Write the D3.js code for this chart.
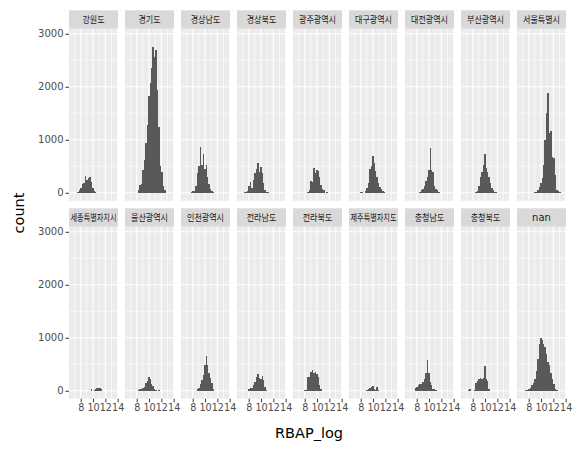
<!DOCTYPE html>
<html><head><meta charset="utf-8">
<script src="https://cdn.jsdelivr.net/npm/d3@7"></script>
<style>body{margin:0;background:#fff}</style></head>
<body>
<script>
const facets = ["강원도","경기도","경상남도","경상북도","광주광역시","대구광역시","대전광역시","부산광역시","서울특별시",
  "세종특별자치시","울산광역시","인천광역시","전라남도","전라북도","제주특별자치도","충청남도","충청북도","nan"];
const binStart = 6.46, binWidth = 0.241;
const firstBin = [4,7,4,3,8,6,7,8,10, 13,7,9,6,6,10,5,3,4];
const counts = [
  [20,45,90,170,185,320,250,280,290,200,90,30,10],
  [50,150,160,430,620,940,1280,1820,2070,2350,2760,2570,2700,1940,1250,500,400,120,55],
  [5,10,30,40,120,370,500,860,530,740,440,520,300,170,70,30,10],
  [15,15,30,120,210,90,250,370,450,560,400,490,370,180,60,10,15],
  [10,60,214,210,465,380,430,420,300,150,70,60,0,20],
  [8,8,0,40,90,180,450,500,700,560,420,300,190,110,70,40,10],
  [5,15,50,80,120,214,300,430,850,430,400,120,80,50,10],
  [20,30,120,300,400,530,730,470,400,300,180,90,50,20,20],
  [10,20,50,100,180,280,530,1000,1510,1880,1130,1160,680,650,340,60,30,10],
  [30,0,20,30,45,50,45,30],
  [15,25,40,60,80,140,180,265,230,120,90,40,20,0,20],
  [40,60,120,200,300,480,650,480,330,250,150,40],
  [40,60,50,110,170,260,320,250,230,280,200,80,20],
  [10,20,260,260,350,390,330,360,310,260,100,40],
  [20,25,60,80,95,40,20,70,10],
  [45,80,110,120,130,170,220,330,580,330,170,110,30,30,20],
  [20,30,0,0,20,140,190,220,240,220,250,470,220,180,40],
  [10,20,25,50,100,150,230,370,600,880,990,960,890,830,700,550,480,330,230,120,40,15]
];
const yMajor = [0,1000,2000,3000], yMinor = [500,1500,2500];
const xMajor = [8,10,12,14], xMinor = [7,9,11,13];

const W = 582, H = 451;
const nCols = 9, pL = 69, pW = 49, gap = 7;
const stripH = 18.5, pH = 172, rowTop = [10.3, 208.3];

const svg = d3.select("body").append("svg").attr("width", W).attr("height", H)
  .style("font-family", "'DejaVu Sans', sans-serif");

const x = d3.scaleLinear().domain([6.1, 14.05]).range([0, pW]);
const y = d3.scaleLinear().domain([-151, 3094]).range([pH, 0]);

facets.forEach((name, i) => {
  const r = Math.floor(i / nCols), c = i % nCols;
  const gx = pL + c * (pW + gap), gy = rowTop[r];
  const g = svg.append("g").attr("transform", `translate(${gx},${gy})`);
  g.append("rect").attr("width", pW).attr("height", stripH).attr("fill", "#D9D9D9");
  const t = g.append("text").attr("x", pW / 2).attr("y", stripH / 2 + 3.6).attr("text-anchor", "middle")
    .attr("fill", "#1A1A1A").text(name);
  if (name === "nan") {
    t.attr("font-size", 10).style("font-family", "'DejaVu Sans'");
  } else {
    t.attr("font-size", 9.5).style("font-family", "'Noto Sans CJK KR'")
      .attr("textLength", Math.min(name.length * 7.4, 46)).attr("lengthAdjust", "spacingAndGlyphs");
  }
  const p = g.append("g").attr("transform", `translate(0,${stripH})`);
  p.append("rect").attr("width", pW).attr("height", pH).attr("fill", "#EBEBEB");
  yMinor.forEach(v => p.append("line").attr("x1", 0).attr("x2", pW).attr("y1", y(v)).attr("y2", y(v))
    .attr("stroke", "#fff").attr("stroke-width", 0.6));
  xMinor.forEach(v => p.append("line").attr("y1", 0).attr("y2", pH).attr("x1", x(v)).attr("x2", x(v))
    .attr("stroke", "#fff").attr("stroke-width", 0.6));
  yMajor.forEach(v => p.append("line").attr("x1", 0).attr("x2", pW).attr("y1", y(v)).attr("y2", y(v))
    .attr("stroke", "#fff").attr("stroke-width", 1.1));
  xMajor.forEach(v => p.append("line").attr("y1", 0).attr("y2", pH).attr("x1", x(v)).attr("x2", x(v))
    .attr("stroke", "#fff").attr("stroke-width", 1.1));
  const data = counts[i].map((v, k) => ({x0: binStart + (firstBin[i] + k) * binWidth, n: v}));
  p.selectAll("rect.bar").data(data).join("rect").attr("class", "bar")
    .attr("x", d => x(d.x0)).attr("width", x(binStart + binWidth) - x(binStart))
    .attr("y", d => y(d.n)).attr("height", d => y(0) - y(d.n)).attr("fill", "#595959")
    .attr("shape-rendering", "crispEdges");
  if (c === 0) {
    const ax = p.append("g").call(d3.axisLeft(y).tickValues(yMajor).tickFormat(d3.format("d")).tickSize(3.5).tickPadding(2));
    ax.select(".domain").remove();
    ax.selectAll("line").attr("stroke", "#333");
    ax.selectAll("text").attr("fill", "#4D4D4D").attr("font-size", 10).style("font-family", "'DejaVu Sans'");
  }
  if (r === 1) {
    const ax = p.append("g").attr("transform", `translate(0,${pH})`)
      .call(d3.axisBottom(x).tickValues(xMajor).tickSize(3.5).tickPadding(2));
    ax.select(".domain").remove();
    ax.selectAll("line").attr("stroke", "#333");
    ax.selectAll("text").attr("fill", "#4D4D4D").attr("font-size", 9.6).style("font-family", "'DejaVu Sans'");
  }
});

svg.append("text").attr("transform", `translate(23.5,213) rotate(-90)`).attr("text-anchor", "middle")
  .attr("font-size", 14.5).attr("fill", "#000").text("count");
svg.append("text").attr("x", 309).attr("y", 438).attr("text-anchor", "middle")
  .attr("font-size", 14.5).attr("fill", "#000").text("RBAP_log");
</script>
</body></html>
